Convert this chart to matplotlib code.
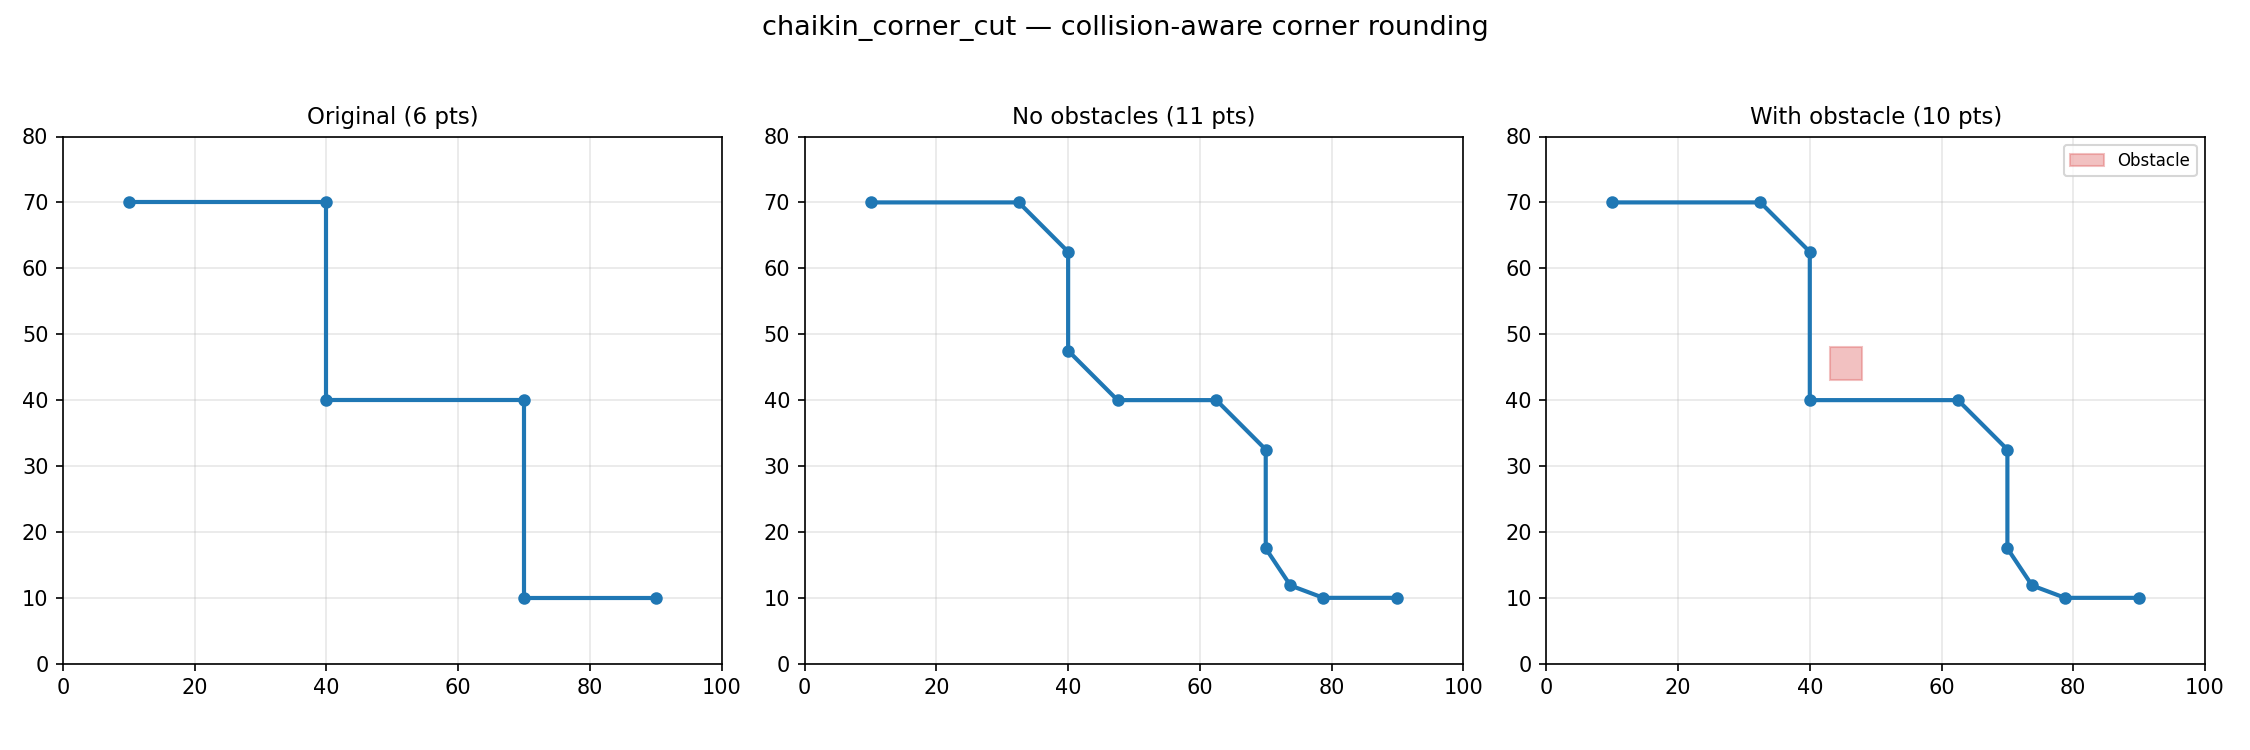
import matplotlib.pyplot as plt
from matplotlib.patches import Rectangle

orig_x = [10, 40, 40, 70, 70, 90]
orig_y = [70, 70, 40, 40, 10, 10]
free_x = [10, 32.5, 40, 40, 47.5, 62.5, 70, 70, 73.75, 78.75, 90]
free_y = [70, 70, 62.5, 47.5, 40, 40, 32.5, 17.5, 11.875, 10, 10]
obs_x = [10, 32.5, 40, 40, 62.5, 70, 70, 73.75, 78.75, 90]
obs_y = [70, 70, 62.5, 40, 40, 32.5, 17.5, 11.875, 10, 10]
obstacle = (43, 43, 5, 5)

panels = [
    ("Original (6 pts)", orig_x, orig_y),
    ("No obstacles (11 pts)", free_x, free_y),
    ("With obstacle (10 pts)", obs_x, obs_y),
]

fig, axes = plt.subplots(1, 3, figsize=(15, 5), dpi=150)
for axis, (title, xs, ys) in zip(axes, panels):
    axis.plot(xs, ys, color="#1f77b4", marker="o", linewidth=2, markersize=5)
    axis.set_xlim(0, 100)
    axis.set_ylim(0, 80)
    axis.set_title(title, fontsize=11)
    axis.grid(alpha=0.3)

ox, oy, ow, oh = obstacle
axes[2].add_patch(
    Rectangle((ox, oy), ow, oh, facecolor="#e06666", edgecolor="#e06666",
              alpha=0.4, label="Obstacle")
)
axes[2].legend(loc="upper right", fontsize=8)

fig.suptitle("chaikin_corner_cut \u2014 collision-aware corner rounding", fontsize=13)
fig.subplots_adjust(left=0.028, right=0.980, top=0.818, bottom=0.115, wspace=0.126)
fig.savefig("out.png", dpi=150)
